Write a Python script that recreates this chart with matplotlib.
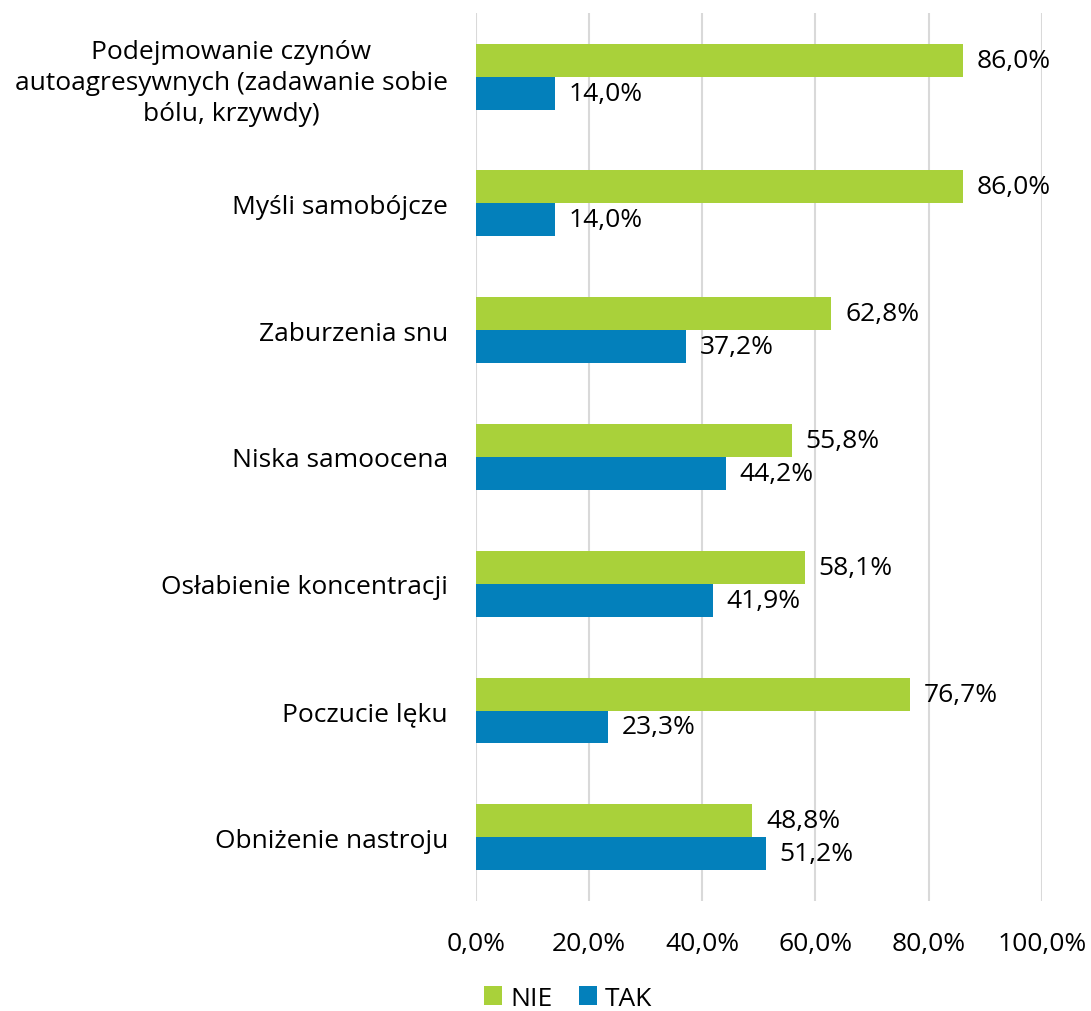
import matplotlib.pyplot as plt
import numpy as np

plt.rcParams['font.family'] = ['Open Sans', 'DejaVu Sans']

categories = ['Podejmowanie czynów\nautoagresywnych (zadawanie sobie\nbólu, krzywdy)',
              'Myśli samobójcze', 'Zaburzenia snu', 'Niska samoocena',
              'Osłabienie koncentracji', 'Poczucie lęku', 'Obniżenie nastroju']
nie = [86.0, 86.0, 62.8, 55.8, 58.1, 76.7, 48.8]
tak = [14.0, 14.0, 37.2, 44.2, 41.9, 23.3, 51.2]
xticks = [0, 20, 40, 60, 80, 100]

green = '#a9d13a'
blue = '#0380bb'
fs = 19

fig = plt.figure(figsize=(10.91, 10.12), dpi=100)
ax = fig.add_axes([0.436, 0.109, 0.519, 0.877])

y = np.arange(len(categories))
h = 0.26
ax.barh(y - h / 2, nie, height=h, color=green, label='NIE', zorder=3)
ax.barh(y + h / 2, tak, height=h, color=blue, label='TAK', zorder=3)

for yi, v in zip(y, nie):
    ax.annotate(f'{v:.1f}%'.replace('.', ','), (v, yi - h / 2), xytext=(10, 0),
                textcoords='offset points', va='center', ha='left', fontsize=fs)
for yi, v in zip(y, tak):
    ax.annotate(f'{v:.1f}%'.replace('.', ','), (v, yi + h / 2), xytext=(10, 0),
                textcoords='offset points', va='center', ha='left', fontsize=fs)

ax.set_ylim(len(categories) - 0.5, -0.5)
ax.set_xlim(0, 100)
ax.set_yticks(y)
ax.set_yticklabels(categories, fontsize=fs, multialignment='center', linespacing=1.3)
ax.set_xticks(xticks)
ax.set_xticklabels([f'{t:.1f}%'.replace('.', ',') for t in xticks], fontsize=fs)
ax.tick_params(length=0)
ax.tick_params(axis='y', pad=20)
ax.tick_params(axis='x', pad=22)
ax.grid(axis='x', color='#d9d9d9', linewidth=1.5, zorder=0)
for s in ax.spines.values():
    s.set_visible(False)

ax.legend(loc='center', bbox_to_anchor=(0.163, -0.11), bbox_transform=ax.transAxes,
          ncol=2, frameon=False, fontsize=fs, handlelength=0.7, handleheight=0.7,
          handletextpad=0.3, columnspacing=1.0)

fig.savefig('out.png', dpi=100)
